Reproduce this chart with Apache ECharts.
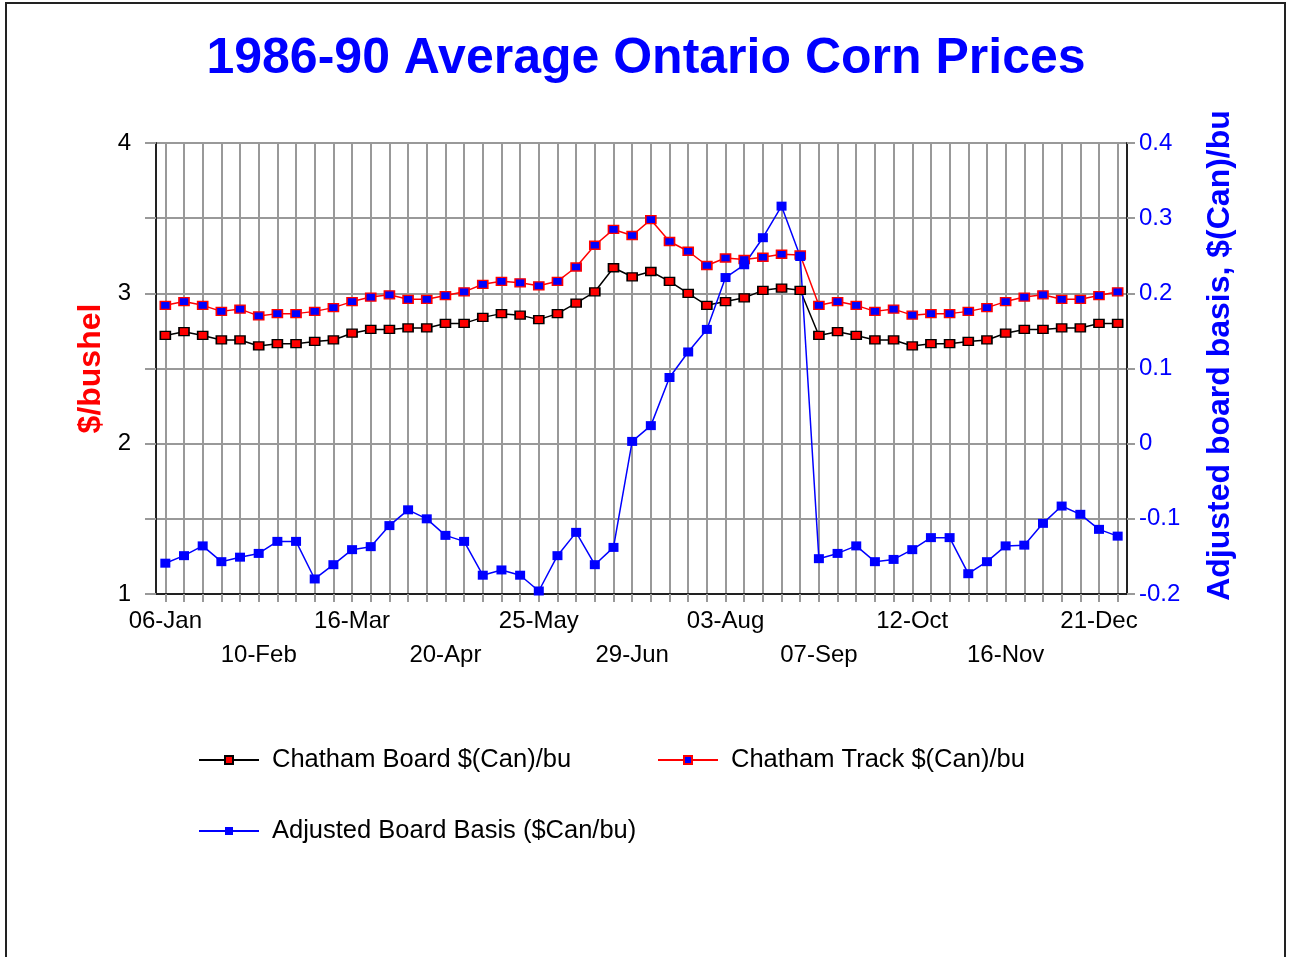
<!DOCTYPE html>
<html>
<head>
<meta charset="utf-8">
<title>1986-90 Average Ontario Corn Prices</title>
<script src="https://cdn.jsdelivr.net/npm/echarts@6/dist/echarts.min.js"></script>
<style>
  html, body { margin: 0; padding: 0; background: #fff; }
  #chart { width: 1292px; height: 957px; }
</style>
</head>
<body>
<div id="chart"></div>
<script>
// weekly dates, 52 weeks
const weeks = [
  '06-Jan', '13-Jan', '20-Jan', '27-Jan', '03-Feb', '10-Feb', '17-Feb', '24-Feb', '02-Mar', '09-Mar',
  '16-Mar', '23-Mar', '30-Mar', '06-Apr', '13-Apr', '20-Apr', '27-Apr', '04-May', '11-May', '18-May',
  '25-May', '01-Jun', '08-Jun', '15-Jun', '22-Jun', '29-Jun', '06-Jul', '13-Jul', '20-Jul', '27-Jul',
  '03-Aug', '10-Aug', '17-Aug', '24-Aug', '31-Aug', '07-Sep', '14-Sep', '21-Sep', '28-Sep', '05-Oct',
  '12-Oct', '19-Oct', '26-Oct', '02-Nov', '09-Nov', '16-Nov', '23-Nov', '30-Nov', '07-Dec', '14-Dec',
  '21-Dec', '28-Dec'
]

const boardPrice = [
  2.72, 2.745, 2.72, 2.69, 2.69, 2.65, 2.665, 2.665, 2.68, 2.69,
  2.735, 2.76, 2.76, 2.77, 2.77, 2.80, 2.80, 2.84, 2.865, 2.855,
  2.825, 2.865, 2.935, 3.01, 3.17, 3.11, 3.145, 3.08, 3.00, 2.92,
  2.945, 2.97, 3.02, 3.035, 3.02, 2.72, 2.745, 2.72, 2.69, 2.69,
  2.65, 2.665, 2.665, 2.68, 2.69, 2.735, 2.76, 2.76, 2.77, 2.77,
  2.80, 2.80
]

const trackPrice = [
  2.92, 2.945, 2.92, 2.88, 2.895, 2.85, 2.865, 2.865, 2.88, 2.905,
  2.945, 2.975, 2.99, 2.96, 2.96, 2.985, 3.01, 3.06, 3.08, 3.07,
  3.05, 3.08, 3.175, 3.32, 3.425, 3.385, 3.49, 3.345, 3.28, 3.185,
  3.235, 3.225, 3.24, 3.26, 3.255, 2.92, 2.945, 2.92, 2.88, 2.895,
  2.855, 2.865, 2.865, 2.88, 2.905, 2.945, 2.975, 2.99, 2.96, 2.96,
  2.985, 3.01
]

const boardBasis = [
  -0.159, -0.149, -0.136, -0.157, -0.151, -0.146, -0.130, -0.130, -0.180, -0.161,
  -0.141, -0.137, -0.109, -0.088, -0.100, -0.122, -0.130, -0.175, -0.168, -0.175,
  -0.196, -0.149, -0.118, -0.161, -0.138, 0.003, 0.024, 0.088, 0.122, 0.152,
  0.221, 0.238, 0.274, 0.316, 0.249, -0.153, -0.146, -0.136, -0.157, -0.154,
  -0.141, -0.125, -0.125, -0.173, -0.157, -0.136, -0.135, -0.106, -0.083, -0.094,
  -0.114, -0.123
]

const seriesNames = [
  'Chatham Board $(Can)/bu',
  'Chatham Track $(Can)/bu',
  'Adjusted Board Basis ($Can/bu)'
]

const FONT = '"Liberation Sans", Arial, sans-serif'

const chart = echarts.init(document.getElementById('chart'))

function legendAt(name, left, top) {
  return {
    data: [name],
    left: left,
    top: top,
    padding: 0,
    orient: 'horizontal',
    itemWidth: 60,
    itemHeight: 10,
    selectedMode: false,
    textStyle: { color: '#000', fontSize: 25.5, fontFamily: FONT, padding: [0, 0, 0, 8] }
  }
}

chart.setOption({
  backgroundColor: '#fff',
  animation: false,
  title: {
    text: '1986-90 Average Ontario Corn Prices',
    left: 'center',
    top: 29,
    textStyle: { color: '#0000ff', fontSize: 50, fontWeight: 'bold', fontFamily: FONT }
  },
  graphic: [{
    type: 'rect',
    silent: true,
    shape: { x: 6, y: 3, width: 1279, height: 1000 },
    style: { fill: 'none', stroke: '#222', lineWidth: 2 }
  }],
  legend: [
    legendAt(seriesNames[0], 198, 747),
    legendAt(seriesNames[1], 657, 747),
    legendAt(seriesNames[2], 198, 818)
  ],
  grid: {
    left: 156, right: 165, top: 143, bottom: 363,
    show: true, borderColor: '#333', borderWidth: 2, backgroundColor: 'transparent'
  },
  xAxis: {
    type: 'category',
    data: weeks,
    boundaryGap: true,
    axisLine: { onZero: false, lineStyle: { color: '#222', width: 2 } },
    axisTick: { show: true, interval: 0, alignWithLabel: true, length: 8, lineStyle: { color: '#999', width: 2 } },
    splitLine: { show: true, interval: 0, alignWithLabel: true, lineStyle: { color: '#999', width: 2 } },
    axisLabel: {
      interval: 4,
      margin: 10,
      color: '#000',
      fontSize: 24,
      lineHeight: 34,
      fontFamily: FONT,
      formatter: (val, idx) => (idx % 10 === 5 ? '\n' + val : val)
    }
  },
  yAxis: [{
    type: 'value',
    min: 1, max: 4, interval: 0.5,
    position: 'left',
    name: '$/bushel',
    nameLocation: 'middle',
    nameRotate: 90,
    nameGap: 47,
    nameTextStyle: { color: '#ff0000', fontSize: 32, fontWeight: 'bold', fontFamily: FONT },
    axisLine: { show: true, onZero: false, lineStyle: { color: '#222', width: 2 } },
    axisTick: { show: true, length: 11, lineStyle: { color: '#999', width: 2 } },
    splitLine: { show: true, lineStyle: { color: '#999', width: 2 } },
    axisLabel: {
      margin: 25, color: '#000', fontSize: 24, fontFamily: FONT,
      formatter: v => (Number.isInteger(v) ? String(v) : '')
    }
  }, {
    type: 'value',
    min: -0.2, max: 0.4, interval: 0.1,
    position: 'right',
    name: 'Adjusted board basis, $(Can)/bu',
    nameLocation: 'middle',
    nameRotate: 90,
    nameGap: 77,
    nameTextStyle: {
      color: '#0000ff', fontSize: 32, fontWeight: 'bold', fontFamily: FONT,
      padding: [0, 0, 0, 26]
    },
    axisLine: { show: true, onZero: false, lineStyle: { color: '#222', width: 2 } },
    axisTick: { show: true, length: 8, lineStyle: { color: '#999', width: 2 } },
    splitLine: { show: false },
    axisLabel: {
      margin: 12, color: '#0000ff', fontSize: 24, fontFamily: FONT,
      formatter: v => String(Math.round(v * 10) / 10)
    }
  }],
  series: [{
    name: seriesNames[0],
    type: 'line',
    yAxisIndex: 0,
    data: boardPrice,
    symbol: 'rect',
    symbolSize: [10, 8],
    lineStyle: { color: '#000', width: 1.5 },
    itemStyle: { color: '#ff0000', borderColor: '#000', borderWidth: 1.5 }
  }, {
    name: seriesNames[1],
    type: 'line',
    yAxisIndex: 0,
    data: trackPrice,
    symbol: 'rect',
    symbolSize: [10, 8],
    lineStyle: { color: '#ff0000', width: 1.5 },
    itemStyle: { color: '#0000ff', borderColor: '#ff0000', borderWidth: 1.5 }
  }, {
    name: seriesNames[2],
    type: 'line',
    yAxisIndex: 1,
    data: boardBasis,
    symbol: 'rect',
    symbolSize: [10, 9],
    lineStyle: { color: '#0000ff', width: 1.5 },
    itemStyle: { color: '#0000ff', borderColor: '#0000ff', borderWidth: 0 }
  }]
})
</script>
</body>
</html>
